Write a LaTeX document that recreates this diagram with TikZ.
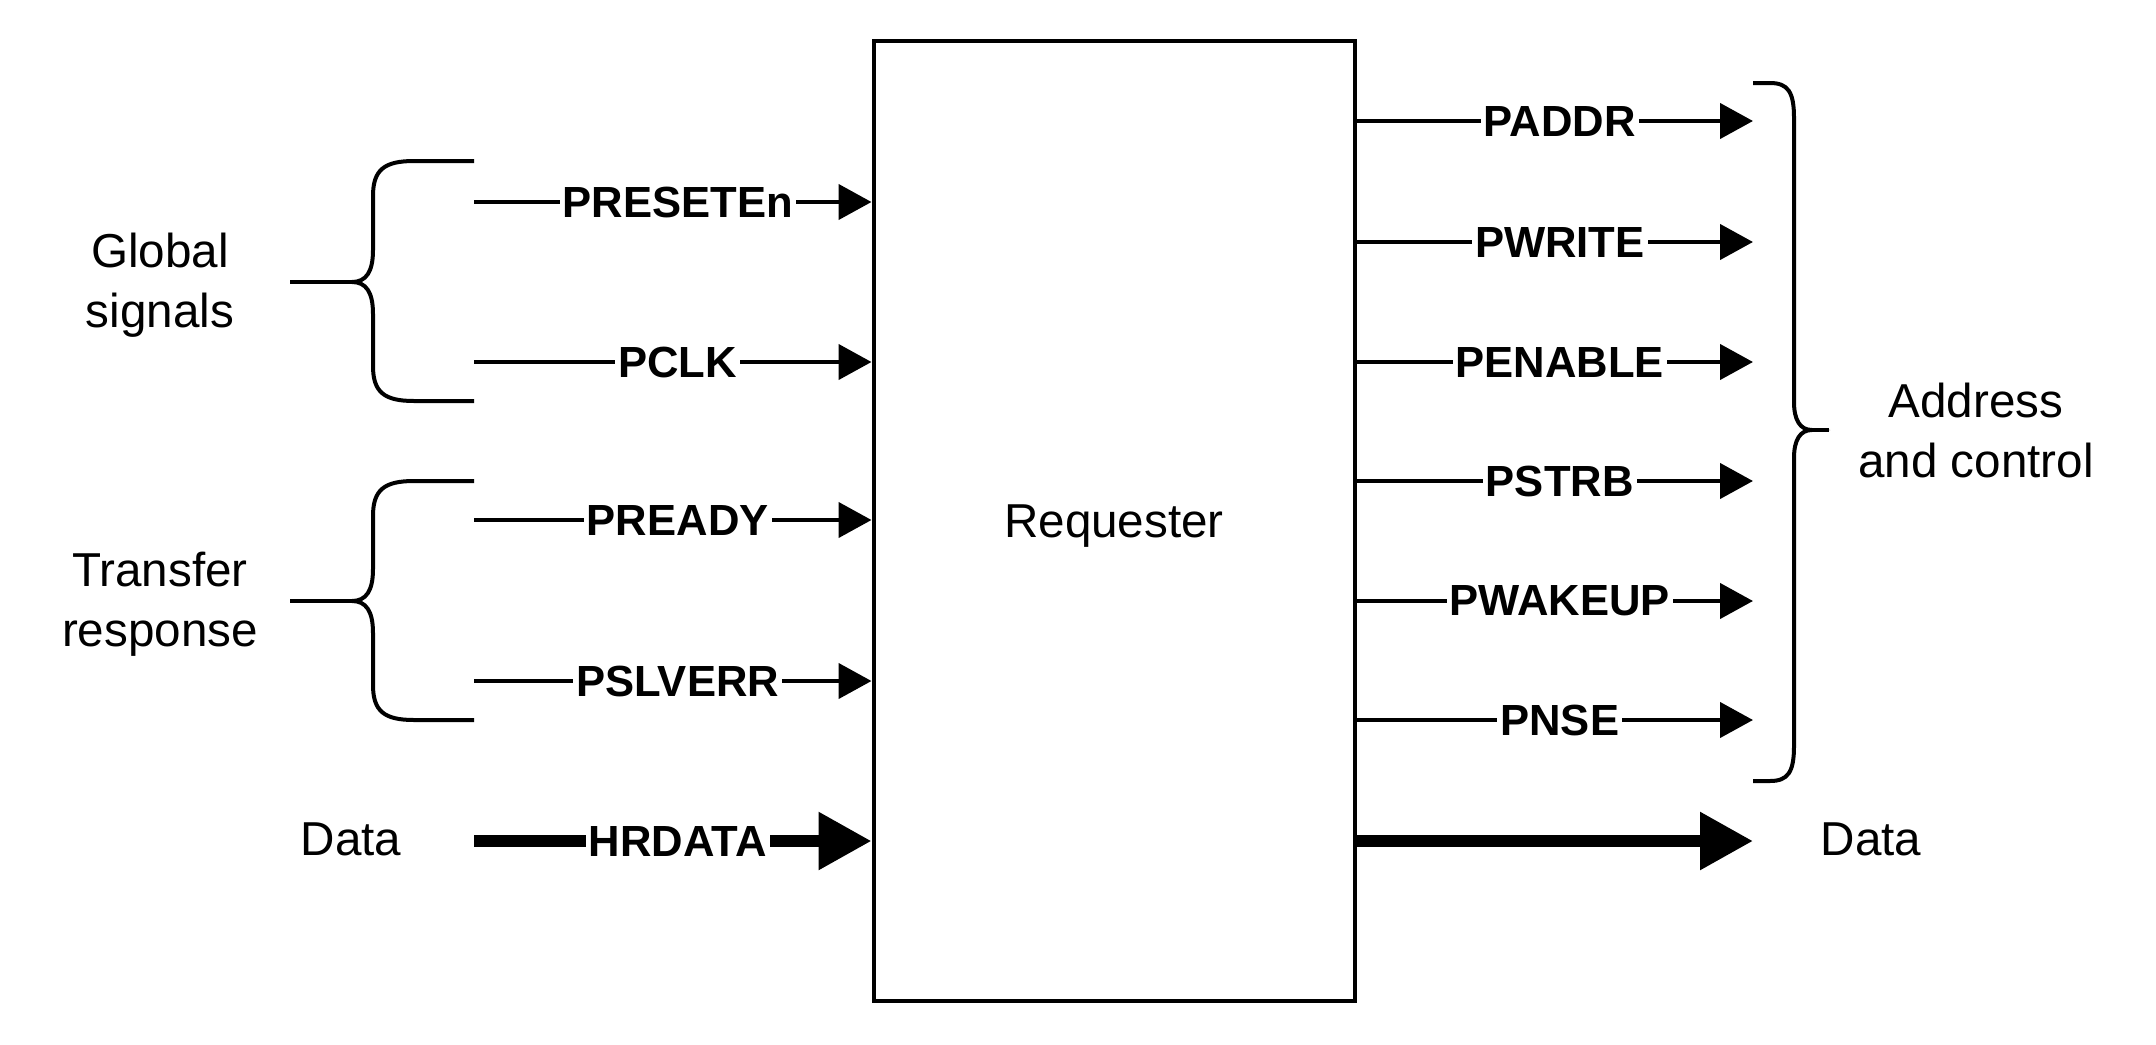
\documentclass[tikz,border=0pt]{standalone}
\usepackage{fontspec}
\setmainfont{Liberation Sans}
\usetikzlibrary{arrows.meta}

\begin{document}
\begin{tikzpicture}[x=0.5pt,y=0.5pt,yscale=-1,xscale=1,
  sig/.style={line width=2.2pt,-{Triangle[length=16.5pt,width=17.5pt]}},
  bus/.style={line width=6pt,-{Triangle[length=26.5pt,width=27.5pt]}},
  brace/.style={line width=2pt},
  lbl/.style={fill=white,inner sep=1.5pt,xshift=2.5pt,font=\fontsize{21.8pt}{26pt}\selectfont\bfseries},
  txt/.style={align=center,inner sep=0pt,font=\fontsize{23.8pt}{30pt}\selectfont}]
\useasboundingbox (0,0) rectangle (2156,1044);

%Shape: Rectangle [requester]
\node (req) at (1114,521) [draw,line width=2pt,minimum width=240.5pt,minimum height=480pt,txt,text depth=-3pt] {Requester};

%Free ends, left side
\coordinate (preset) at (474,202);
\coordinate (pclk) at (474,362);
\coordinate (pready) at (474,520);
\coordinate (pslverr) at (474,681);
\coordinate (hrdata) at (474,841);
%Free ends, right side
\coordinate (paddr) at (1753,121);
\coordinate (pwrite) at (1753,242);
\coordinate (penable) at (1753,362);
\coordinate (pstrb) at (1753,481);
\coordinate (pwakeup) at (1753,601);
\coordinate (pnse) at (1753,720);
\coordinate (wdata) at (1753,841);

%Straight Lines [inputs]
\draw [sig] (preset) -- (preset -| req.west) node [midway,lbl] {PRESETEn};
\draw [sig] (pclk) -- (pclk -| req.west) node [midway,lbl] {PCLK};
\draw [sig] (pready) -- (pready -| req.west) node [midway,lbl] {PREADY};
\draw [sig] (pslverr) -- (pslverr -| req.west) node [midway,lbl] {PSLVERR};
\draw [bus] (hrdata) -- (hrdata -| req.west) node [midway,lbl] {HRDATA};

%Straight Lines [outputs]
\draw [sig] (paddr -| req.east) -- (paddr) node [midway,lbl] {PADDR};
\draw [sig] (pwrite -| req.east) -- (pwrite) node [midway,lbl] {PWRITE};
\draw [sig] (penable -| req.east) -- (penable) node [midway,lbl] {PENABLE};
\draw [sig] (pstrb -| req.east) -- (pstrb) node [midway,lbl] {PSTRB};
\draw [sig] (pwakeup -| req.east) -- (pwakeup) node [midway,lbl] {PWAKEUP};
\draw [sig] (pnse -| req.east) -- (pnse) node [midway,lbl] {PNSE};
\draw [bus] (wdata -| req.east) -- (wdata);

%Shape: Curly Bracket [global]
\draw [brace] (474,161) -- (414,161) .. controls (384,161) and (373,170) .. (373,196) -- (373,250) .. controls (373,272) and (366,282) .. (352,282) .. controls (366,282) and (373,292) .. (373,314) -- (373,366) .. controls (373,392) and (384,401) .. (414,401) -- (474,401);
\draw [brace] (352,282) -- (290,282);
%Shape: Curly Bracket [transfer]
\draw [brace] (474,481) -- (414,481) .. controls (384,481) and (373,490) .. (373,516) -- (373,569) .. controls (373,591) and (366,601) .. (352,601) .. controls (366,601) and (373,611) .. (373,633) -- (373,685) .. controls (373,711) and (384,720) .. (414,720) -- (474,720);
\draw [brace] (352,601) -- (290,601);
%Shape: Curly Bracket [address]
\draw [brace] (1753,83) -- (1770,83) .. controls (1788,83) and (1794,92) .. (1794,118) -- (1794,402) .. controls (1794,420) and (1800,430) .. (1812,430) .. controls (1800,430) and (1794,440) .. (1794,458) -- (1794,746) .. controls (1794,772) and (1788,781) .. (1770,781) -- (1753,781);
\draw [brace] (1812,430) -- (1829,430);

% Text Node
\node (glob) at (160,285) [txt] {Global\\signals};
% Text Node
\node (xfer) at (160,604) [txt] {Transfer\\response};
% Text Node
\node (dinl) at (351,839) [txt] {Data};
% Text Node
\node (addr) at (1976,430) [txt] {Address\\and control};
% Text Node
\node (doutl) at (1871,839) [txt] {Data};

\end{tikzpicture}
\end{document}
